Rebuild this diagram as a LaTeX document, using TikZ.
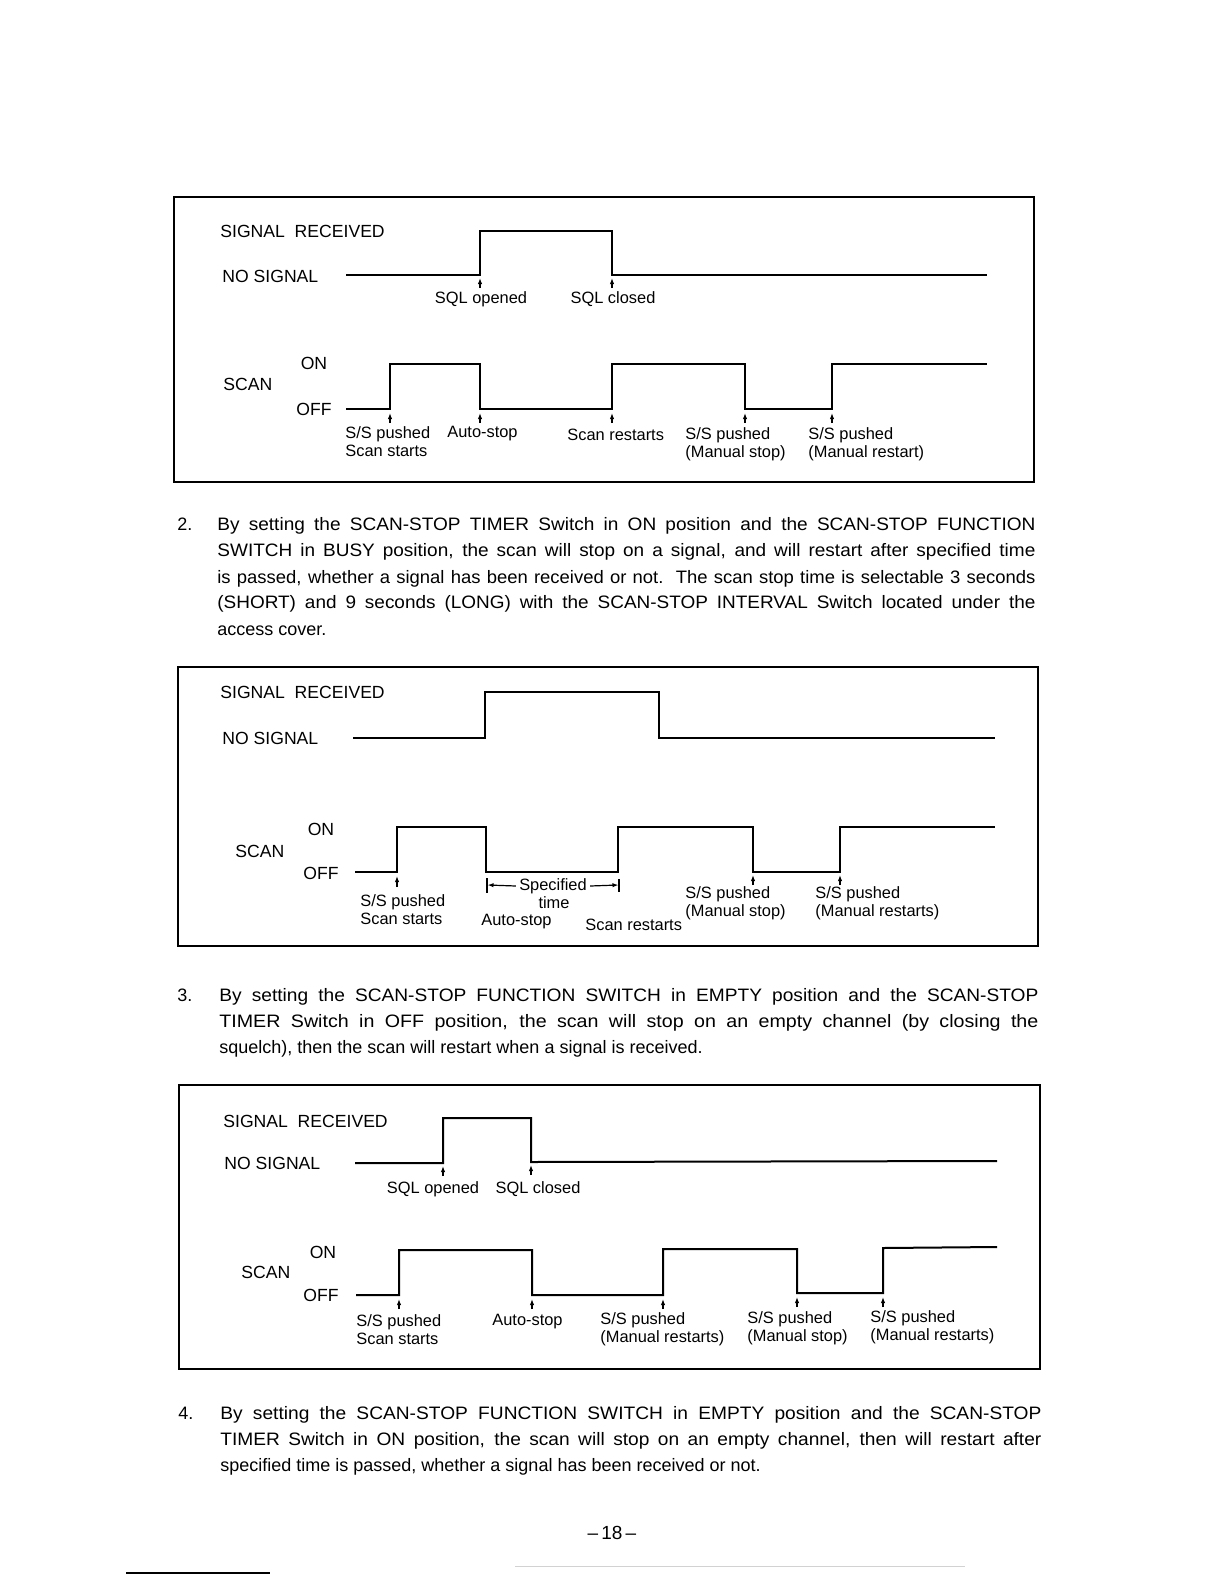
\documentclass[tikz,border=0pt]{standalone}
\usepackage{fontspec}
\setmainfont{Liberation Sans}
\usetikzlibrary{arrows.meta}
\newlength{\natw}
\newcommand{\fullline}[2][409pt]{\settowidth{\natw}{#2}\resizebox{#1}{\height}{\makebox[\dimexpr(\natw+#1)/2\relax][s]{#2}}}

\begin{document}
\begin{tikzpicture}[x=0.5pt,y=-0.5pt,
wave/.style={line width=1pt,line join=miter},
frame/.style={draw,line width=0.8pt},
hd/.style={anchor=west,inner sep=0pt,font=\fontsize{8.8}{10}\selectfont},
lvl/.style={hd,anchor=center},
tag/.style={anchor=west,inner sep=0pt,align=left,font=\fontsize{8.2}{9}\selectfont},
ctag/.style={tag,anchor=center,align=center},
tick/.style={-{Latex[length=3pt,width=2.2pt]},line width=0.6pt},
txt/.style={anchor=base west,inner sep=0pt,font=\fontsize{9}{13}\selectfont}]
\useasboundingbox (0,0) rectangle (1224,1584);

% first chart
\draw[frame] (174,197) rectangle (1034,482);
\node[hd] (sr1) at (220,231) {SIGNAL\ \ RECEIVED};
\node[hd] (ns1) at (222,276) {NO SIGNAL};
\draw[wave] (346,275) -- (480,275) -- (480,231) -- (612,231) -- (612,275) -- (987,275);
\draw[tick] (480,288) -- (480,278); \draw[tick] (612,288) -- (612,278);
\node[ctag] (sqo1) at (481,299) {SQL opened};
\node[ctag] (sqc1) at (613,299) {SQL closed};
\node[lvl] (on1) at (314,363) {ON};
\node[hd] (sc1) at (223,384) {SCAN};
\node[lvl] (off1) at (314,409) {OFF};
\draw[wave] (346,409) -- (390,409) -- (390,364) -- (480,364) -- (480,409) -- (612,409) -- (612,364) -- (745,364) -- (745,409) -- (832,409) -- (832,364) -- (987,364);
\draw[tick] (390,423) -- (390,413); \draw[tick] (480,423) -- (480,413); \draw[tick] (612,423) -- (612,413); \draw[tick] (745,423) -- (745,413); \draw[tick] (832,423) -- (832,413);
\node[tag] (p1a) at (345,442) {S/S pushed\\Scan starts};
\node[tag] (p1b) at (447,434) {Auto-stop};
\node[tag] (p1c) at (567,435) {Scan restarts};
\node[tag] (p1d) at (685,444) {S/S pushed\\(Manual stop)};
\node[tag] (p1e) at (808,444) {S/S pushed\\(Manual restart)};

% item 2
\node[txt] (n2) at (177,530) {2.};
\node[txt] (t2a) at (217,530) {\fullline{By setting the SCAN-STOP TIMER Switch in ON position and the SCAN-STOP FUNCTION}};
\node[txt] (t2b) at (217,556) {\fullline{SWITCH in BUSY position, the scan will stop on a signal, and will restart after specified time}};
\node[txt] (t2c) at (217,583) {\fullline{is passed, whether a signal has been received or not.\ \ The scan stop time is selectable 3 seconds}};
\node[txt] (t2d) at (217,608) {\fullline{(SHORT) and 9 seconds (LONG) with the SCAN-STOP INTERVAL Switch located under the}};
\node[txt] (t2e) at (217,635) {access cover.};

% second chart
\draw[frame] (178,667) rectangle (1038,946);
\node[hd] (sr2) at (220,692) {SIGNAL\ \ RECEIVED};
\node[hd] (ns2) at (222,738) {NO SIGNAL};
\draw[wave] (353,738) -- (485,738) -- (485,692) -- (659,692) -- (659,738) -- (995,738);
\node[lvl] (on2) at (321,829) {ON};
\node[hd] (sc2) at (235,851) {SCAN};
\node[lvl] (off2) at (321,873) {OFF};
\draw[wave] (355,872) -- (397,872) -- (397,827) -- (486,827) -- (486,872) -- (618,872) -- (618,827) -- (753,827) -- (753,872) -- (840,872) -- (840,827) -- (995,827);
\draw[tick] (397,887) -- (397,876); \draw[tick] (753,885) -- (753,875); \draw[tick] (840,885) -- (840,875);
\draw[line width=0.6pt] (487,878) -- (487,893); \draw[line width=0.6pt] (619,879) -- (619,892);
\coordinate (lb) at (487.5,885); \coordinate (rb) at (618.5,885);
\node[ctag] (spec) at (553,886) {Specified};
\node[ctag] (time) at (554,903) {time};
\draw[tick] ([xshift=-1.5pt]spec.west) -- (lb); \draw[tick] ([xshift=1.5pt]spec.east) -- (rb);
\node[tag] (p2a) at (360,910) {S/S pushed\\Scan starts};
\node[tag] (p2b) at (481,922) {Auto-stop};
\node[tag] (p2c) at (585,925) {Scan restarts};
\node[tag] (p2d) at (685,903) {S/S pushed\\(Manual stop)};
\node[tag] (p2e) at (815,903) {S/S pushed\\(Manual restarts)};

% item 3
\node[txt] (n3) at (177,1001) {3.};
\node[txt] (t3a) at (219,1001) {\fullline[409.5pt]{By setting the SCAN-STOP FUNCTION SWITCH in EMPTY position and the SCAN-STOP}};
\node[txt] (t3b) at (219,1027) {\fullline[409.5pt]{TIMER Switch in OFF position, the scan will stop on an empty channel (by closing the}};
\node[txt] (t3c) at (219,1053) {squelch), then the scan will restart when a signal is received.};

% third chart
\draw[frame] (179,1085) rectangle (1040,1369);
\node[hd] (sr3) at (223,1121) {SIGNAL\ \ RECEIVED};
\node[hd] (ns3) at (224,1163) {NO SIGNAL};
\draw[wave] (355,1163) -- (443,1163) -- (443,1118) -- (531,1118) -- (531,1162) -- (997,1161);
\draw[tick] (443,1176) -- (443,1166); \draw[tick] (531,1175) -- (531,1165);
\node[ctag] (sqo3) at (433,1189) {SQL opened};
\node[ctag] (sqc3) at (538,1189) {SQL closed};
\node[lvl] (on3) at (323,1252) {ON};
\node[hd] (sc3) at (241,1272) {SCAN};
\node[lvl] (off3) at (321,1295) {OFF};
\draw[wave] (356,1295) -- (399,1295) -- (399,1250) -- (532,1250) -- (532,1295) -- (663,1295) -- (663,1249) -- (797,1249) -- (797,1293) -- (883,1293) -- (883,1248) -- (997,1247);
\draw[tick] (399,1309) -- (399,1299); \draw[tick] (532,1309) -- (532,1299); \draw[tick] (663,1309) -- (663,1299); \draw[tick] (797,1307) -- (797,1297); \draw[tick] (883,1307) -- (883,1297);
\node[tag] (p3a) at (356,1330) {S/S pushed\\Scan starts};
\node[tag] (p3b) at (492,1322) {Auto-stop};
\node[tag] (p3c) at (600,1329) {S/S pushed\\(Manual restarts)};
\node[tag] (p3d) at (747,1328) {S/S pushed\\(Manual stop)};
\node[tag] (p3e) at (870,1327) {S/S pushed\\(Manual restarts)};

% item 4
\node[txt] (n4) at (178,1419) {4.};
\node[txt] (t4a) at (220,1419) {\fullline[410.5pt]{By setting the SCAN-STOP FUNCTION SWITCH in EMPTY position and the SCAN-STOP}};
\node[txt] (t4b) at (220,1445) {\fullline[410.5pt]{TIMER Switch in ON position, the scan will stop on an empty channel, then will restart after}};
\node[txt] (t4c) at (220,1471) {specified time is passed, whether a signal has been received or not.};

% page foot
\node[inner sep=0pt,font=\fontsize{9.5}{11}\selectfont] (pg) at (612,1533) {–\,18\,–};
\draw[line width=0.6pt] (126,1573) -- (270,1573);
\draw[gray!35,line width=0.5pt] (515,1566) -- (965,1566);
\end{tikzpicture}
\end{document}
